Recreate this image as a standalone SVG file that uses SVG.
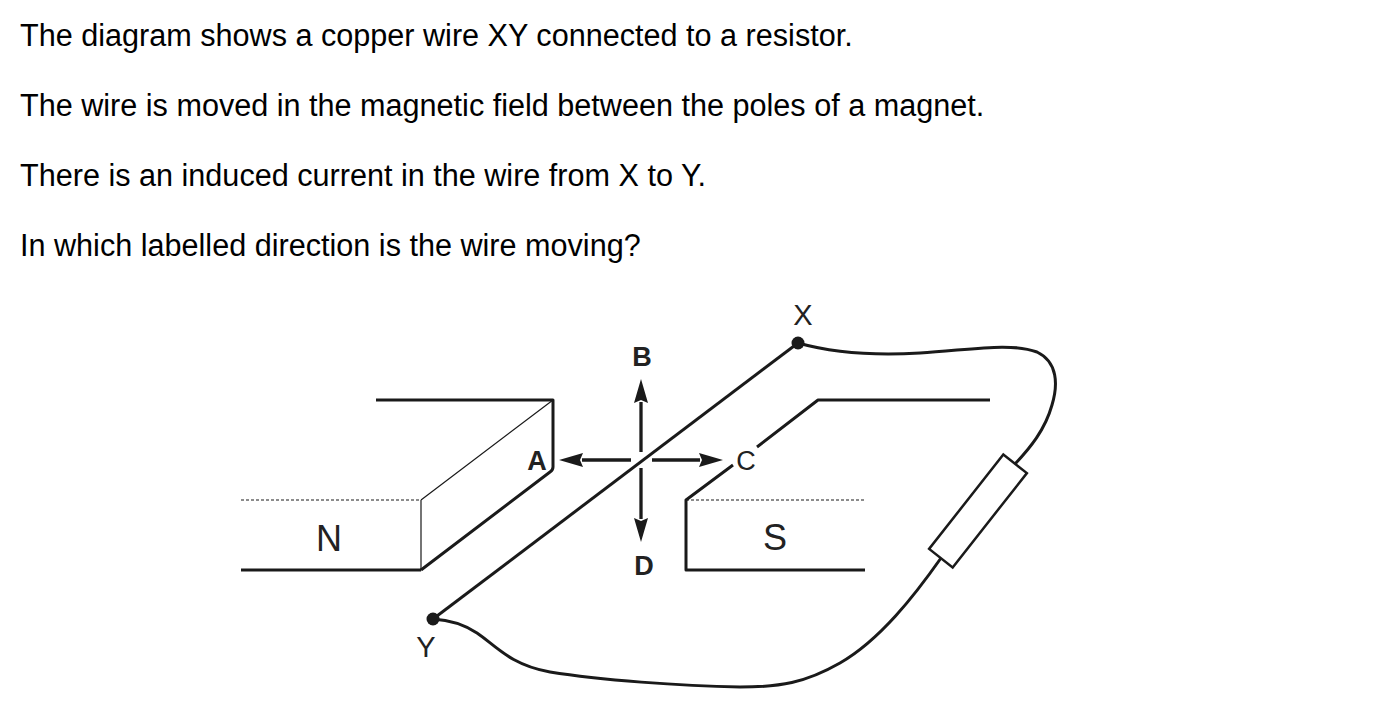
<svg xmlns="http://www.w3.org/2000/svg" width="1374" height="726" viewBox="0 0 1374 726">
<style>
.q{font-family:"Liberation Sans",Arial,sans-serif;font-size:30.6px;fill:#000}
.thick{fill:none;stroke:#1a1a1a;stroke-width:3;stroke-linejoin:round}
.thin{fill:none;stroke:#1a1a1a;stroke-width:1.2}
.dash{fill:none;stroke:#1a1a1a;stroke-width:1.2;stroke-dasharray:3 2}
.lbl{font-family:"Liberation Sans",Arial,sans-serif;fill:#222;text-anchor:middle}
.pole{font-size:36px}
.end{font-size:29px}
.dir{font-size:27px;font-weight:bold}
.arrow{fill:none;stroke:#1a1a1a;stroke-width:3.3;marker-end:url(#head)}
</style>
<defs>
<marker id="head" viewBox="0 0 24 14" refX="1" refY="7" markerWidth="24" markerHeight="14" markerUnits="userSpaceOnUse" orient="auto">
<path d="M0,0 L24,7 L0,14 L3,7 Z" fill="#1a1a1a"/>
</marker>
</defs>
<rect width="1374" height="726" fill="#fff"/>
<g id="question">
<text class="q" x="20" y="46">The diagram shows a copper wire XY connected to a resistor.</text>
<text class="q" x="20" y="116">The wire is moved in the magnetic field between the poles of a magnet.</text>
<text class="q" x="20" y="186">There is an induced current in the wire from X to Y.</text>
<text class="q" x="20" y="256">In which labelled direction is the wire moving?</text>
</g>
<g id="magnet-N">
<path class="thick" d="M376,400 H553 V467 Q553,470 550,472 L421,570"/>
<path class="thick" d="M241,570 H421"/>
<path class="thin" d="M421,500 V570 M421,500 L553,400"/>
<path class="dash" d="M241,500 H421"/>
<text class="lbl pole" x="329" y="551">N</text>
</g>
<g id="magnet-S">
<path class="thick" d="M733,465 L686,500 V570 H865"/>
<path class="thick" d="M757,447 L818,400 H990"/>
<path class="dash" d="M686,500 H865"/>
<text class="lbl pole" x="775" y="550">S</text>
</g>
<g id="connectors">
<path class="arrow" d="M641,452 V402"/>
<path class="arrow" d="M641,468 V519"/>
<path class="arrow" d="M631,460 H582"/>
<path class="arrow" d="M652,460 H700"/>
<path class="thick" d="M433,619 L798,343"/>
<path class="thick" d="M798,343 C830,352 870,356 920,353 C970,350 1010,342 1037,352 C1058,362 1058,385 1052,405 C1045,430 1030,448 1015,464"/>
<path class="thick" d="M941,558 C915,595 880,640 840,663 C805,683 780,687 740,687 C680,686 600,680 550,672 C510,665 495,645 477,633 C465,625 450,620 433,619"/>
</g>
<g id="wire-XY">
<circle cx="798" cy="343" r="6.5" fill="#1a1a1a"/>
<circle cx="433" cy="619" r="6.5" fill="#1a1a1a"/>
<text class="lbl end" x="803" y="325">X</text>
<text class="lbl end" x="426" y="657">Y</text>
</g>
<g id="resistor">
<rect x="-60" y="-15" width="120" height="30" transform="translate(978,511) rotate(-51.8)" fill="#fff" stroke="#1a1a1a" stroke-width="2.5"/>
</g>
<g id="directions">
<text class="lbl dir" x="537" y="470">A</text>
<text class="lbl dir" x="642" y="366">B</text>
<text class="lbl end" x="746" y="470" style="font-size:27px">C</text>
<text class="lbl dir" x="644" y="575">D</text>
</g>
</svg>
